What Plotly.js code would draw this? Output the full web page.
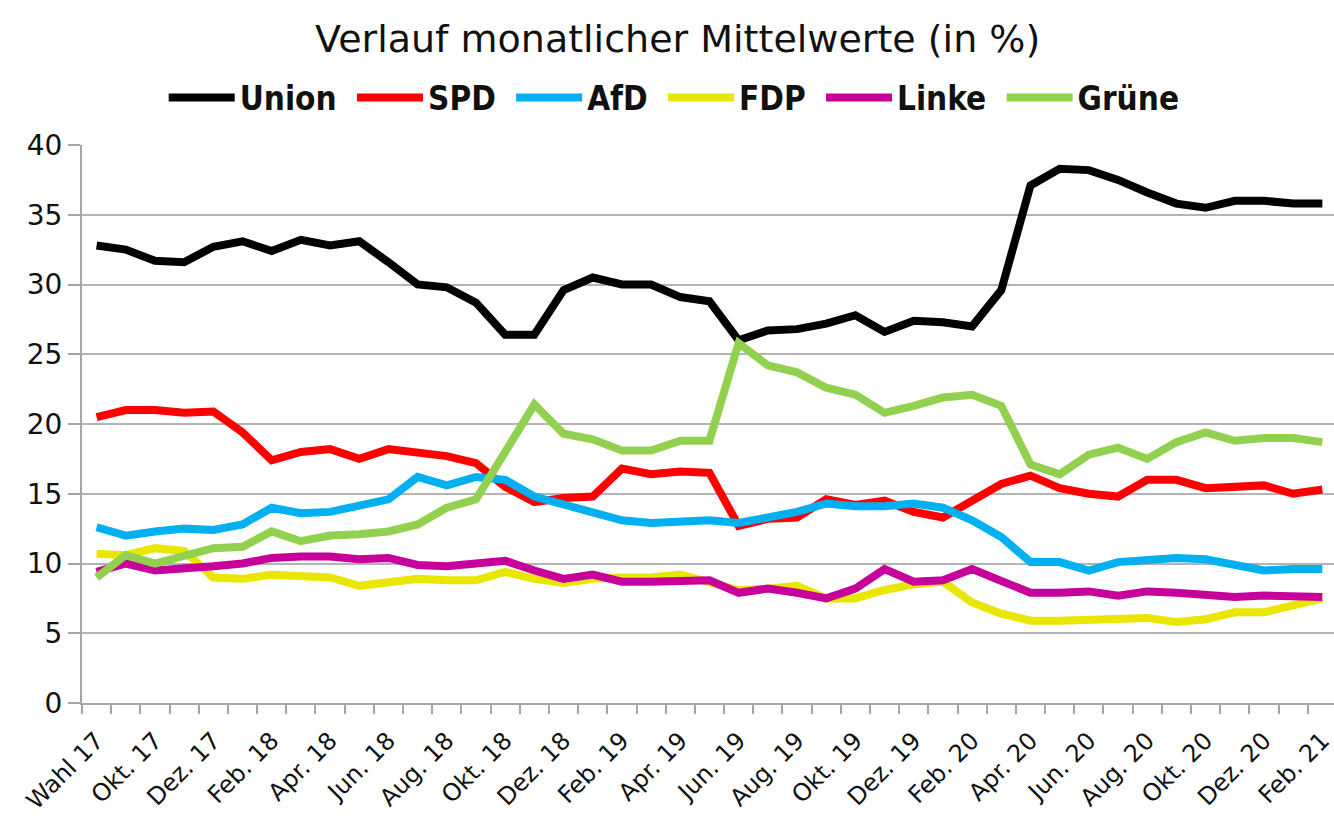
<!DOCTYPE html>
<html>
<head>
<meta charset="utf-8">
<script src="https://cdn.plot.ly/plotly-3.0.1.min.js"></script>
<style>html,body{margin:0;padding:0;background:#fff;}#chart{width:1334px;height:817px;}</style>
</head>
<body>
<div id="chart"></div>
<script>
const months = ["Wahl 17","Sep. 17","Okt. 17","Nov. 17","Dez. 17","Jan. 18","Feb. 18","Mrz. 18","Apr. 18","Mai 18","Jun. 18","Jul. 18","Aug. 18","Sep. 18","Okt. 18","Nov. 18","Dez. 18","Jan. 19","Feb. 19","Mrz. 19","Apr. 19","Mai 19","Jun. 19","Jul. 19","Aug. 19","Sep. 19","Okt. 19","Nov. 19","Dez. 19","Jan. 20","Feb. 20","Mrz. 20","Apr. 20","Mai 20","Jun. 20","Jul. 20","Aug. 20","Sep. 20","Okt. 20","Nov. 20","Dez. 20","Jan. 21","Feb. 21"];

const union = [32.8,32.5,31.7,31.6,32.7,33.1,32.4,33.2,32.8,33.1,31.6,30.0,29.8,28.7,26.4,26.4,29.6,30.5,30.0,30.0,29.1,28.8,26.0,26.7,26.8,27.2,27.8,26.6,27.4,27.3,27.0,29.6,37.1,38.3,38.2,37.5,36.6,35.8,35.5,36.0,36.0,35.8,35.8];
const spd   = [20.5,21.0,21.0,20.8,20.9,19.4,17.4,18.0,18.2,17.5,18.2,17.9,17.7,17.2,15.5,14.4,14.7,14.8,16.8,16.4,16.6,16.5,12.7,13.2,13.3,14.6,14.2,14.5,13.7,13.3,14.5,15.7,16.3,15.4,15.0,14.8,16.0,16.0,15.4,15.5,15.6,15.0,15.3];
const afd   = [12.6,12.0,12.3,12.5,12.4,12.8,14.0,13.6,13.7,14.1,14.6,16.2,15.6,16.2,16.0,14.8,14.2,13.6,13.1,12.9,13.0,13.1,12.9,13.3,13.7,14.3,14.1,14.1,14.3,14.0,13.1,11.9,10.1,10.1,9.5,10.1,10.2,10.4,10.3,9.9,9.5,9.6,9.6];
const fdp   = [10.7,10.6,11.1,10.9,9.0,8.9,9.2,9.1,9.0,8.4,8.6,8.9,8.8,8.8,9.4,8.9,8.6,8.9,9.0,9.0,9.2,8.7,8.1,8.2,8.4,7.5,7.5,8.1,8.5,8.7,7.2,6.4,5.9,5.9,6.0,6.1,6.1,5.8,6.0,6.5,6.5,7.0,7.5];
const linke = [9.4,10.0,9.5,9.6,9.8,10.0,10.4,10.5,10.5,10.3,10.4,9.9,9.8,10.0,10.2,9.5,8.9,9.2,8.7,8.7,8.7,8.8,7.9,8.2,7.9,7.5,8.2,9.6,8.7,8.8,9.6,8.8,7.9,7.9,8.0,7.7,8.0,7.9,7.7,7.6,7.7,7.7,7.6];
const gruene= [9.0,10.6,10.0,10.6,11.1,11.2,12.3,11.6,12.0,12.1,12.3,12.8,14.0,14.6,18.0,21.4,19.3,18.9,18.1,18.1,18.8,18.8,25.8,24.2,23.7,22.6,22.1,20.8,21.3,21.9,22.1,21.3,17.1,16.4,17.8,18.3,17.5,18.7,19.4,18.8,19.0,19.0,18.7];

const seriesNames = ["Union","SPD","AfD","FDP","Linke","Grüne"];
const seriesData = [union, spd, afd, fdp, linke, gruene];
const seriesColors = ["#000000","#ff0000","#00b0f0","#e9e600","#c8009b","#92d050"];

const idx = months.map((m, i) => i);
const traces = seriesNames.map((n, k) => ({
  type: 'scatter', mode: 'lines', name: n + '\u00a0',
  x: idx, y: seriesData[k],
  line: {color: seriesColors[k], width: 8, shape: 'linear'},
  hoverinfo: 'skip'
}));

const tickIdx = idx.filter(i => i % 2 === 0);
const tickText = tickIdx.map(i => months[i]);
const boundaries = idx.map(i => i - 0.5).concat([idx.length - 0.5]);

const layout = {
  width: 1334, height: 817,
  paper_bgcolor: '#ffffff', plot_bgcolor: '#ffffff',
  margin: {l: 82, r: 0, t: 145, b: 114},
  title: {
    text: 'Verlauf monatlicher Mittelwerte (in %)',
    font: {family: 'DejaVu Sans, sans-serif', size: 38, color: '#111'},
    x: 0.508, xanchor: 'center', y: 0.953, yanchor: 'middle'
  },
  showlegend: true,
  legend: {
    orientation: 'h', x: 0.477, xanchor: 'center', y: 1.085, yanchor: 'middle',
    font: {family: 'DejaVu Sans Condensed, DejaVu Sans, sans-serif', size: 33, color: '#111', weight: 'bold'},
    itemwidth: 66, tracegroupgap: 0, bgcolor: 'rgba(0,0,0,0)'
  },
  xaxis: {
    range: [-0.5, 42.4],
    tickmode: 'array', tickvals: tickIdx, ticktext: tickText,
    tickangle: -45, ticks: '', ticklabeloverflow: 'allow', ticklabelstandoff: 12,
    tickfont: {family: 'DejaVu Sans, sans-serif', size: 24, color: '#111'},
    showgrid: false, zeroline: false,
    showline: true, linecolor: '#a6a6a6', linewidth: 2,
    minor: {tickmode: 'array', tickvals: boundaries, ticks: 'outside', ticklen: 9, tickcolor: '#a6a6a6', tickwidth: 2, showgrid: false},
    fixedrange: true
  },
  yaxis: {
    range: [0, 40], dtick: 5, tick0: 0,
    ticks: 'outside', ticklen: 12, tickcolor: '#a6a6a6', tickwidth: 2,
    tickfont: {family: 'DejaVu Sans, sans-serif', size: 28, color: '#111'},
    showgrid: true, gridcolor: '#b4b4b4', gridwidth: 2,
    zeroline: false, showline: true, linecolor: '#a6a6a6', linewidth: 2,
    fixedrange: true
  }
};

Plotly.newPlot('chart', traces, layout, {displayModeBar: false, staticPlot: true});
</script>
</body>
</html>
